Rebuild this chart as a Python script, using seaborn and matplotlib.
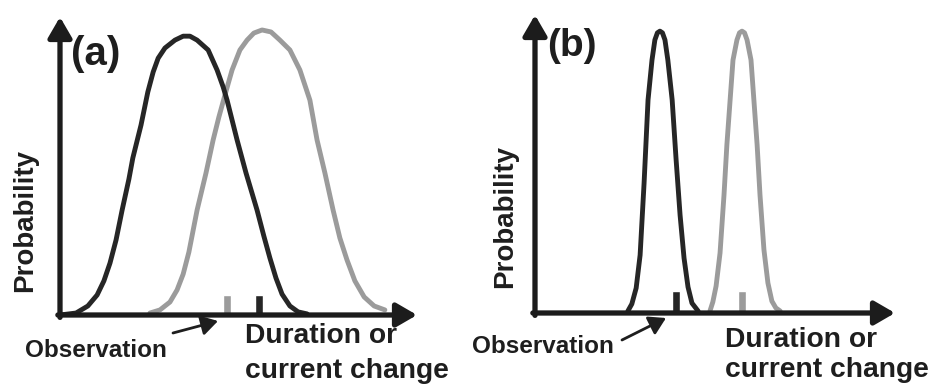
import matplotlib
matplotlib.use("Agg")
import matplotlib.pyplot as plt
import seaborn as sns
import pandas as pd

# ---------------- data ----------------
# panel (a): broad distributions (x: 0-100 along axis, y: 0-100 = peak)
a_dark_x = [0, 4.5, 7.8, 10.4, 12.3, 14.0, 15.7, 17.4, 19.3, 20.4, 22.7, 24.6, 26.1, 27.5, 29.4,
            32.2, 34.5, 36.4, 38.4, 41.5, 44.0, 45.7, 46.8, 49.6, 52.1, 55.2, 57.1, 58.8, 60.5,
            62.2, 64.4, 66.7, 69.2]
a_dark_y = [0, 0.7, 3.2, 7.1, 12.1, 18.4, 26.6, 37.2, 48.2, 55.7, 67.4, 79.1, 86.2, 91.1, 94.7,
            97.5, 98.9, 98.9, 97.5, 94.0, 86.9, 80.9, 76.2, 62.1, 50.4, 37.2, 28.0, 20.2, 13.1,
            7.4, 3.2, 1.1, 0.4]
a_light_x = [25.2, 28.0, 30.8, 32.8, 34.5, 36.1, 38.4, 40.9, 42.9, 44.5, 46.2, 48.2, 50.4, 52.4,
             54.3, 56.6, 59.1, 61.6, 64.4, 67.2, 70.0, 72.0, 74.2, 76.5, 78.4, 80.4, 82.6, 85.2,
             88.0, 91.0]
a_light_y = [0.7, 1.8, 4.6, 8.9, 14.5, 22.3, 37.2, 50.4, 62.1, 70.2, 78.0, 86.9, 94.0, 97.5,
             100.0, 101.1, 100.4, 97.5, 94.0, 86.9, 76.2, 62.1, 50.4, 37.2, 27.3, 19.5, 12.1, 6.4,
             3.2, 1.8]
a_obs_x = [46.8, 55.7]          # light, dark observation marks
a_obs_h = [7.1, 7.1]

# panel (b): narrow distributions
b_dark_x = [25.8, 26.9, 28.1, 29.2, 30.3, 31.4, 32.5, 33.3, 34.0, 34.7, 35.4, 36.1, 36.9, 38.1,
            39.2, 40.3, 41.4, 42.5, 43.6, 45.3]
b_dark_y = [0.7, 3.2, 8.8, 20.5, 45.9, 75.3, 89.4, 96.5, 99.0, 99.6, 99.0, 96.5, 89.4, 75.3,
            54.1, 34.6, 19.4, 9.2, 3.5, 0.7]
b_light_x = [48.6, 49.4, 50.3, 51.4, 52.5, 53.3, 54.2, 55.0, 56.1, 56.8, 57.5, 58.2, 58.9, 60.0,
             60.8, 61.7, 62.5, 63.6, 64.7, 65.8, 66.9, 68.1]
b_light_y = [0.7, 3.9, 9.5, 21.2, 41.7, 59.4, 75.3, 89.4, 96.5, 99.0, 99.6, 99.0, 96.5, 89.4,
             75.3, 59.4, 41.7, 22.3, 10.6, 4.2, 1.8, 0.7]
b_obs_x = [39.2, 57.5]          # dark, light observation marks
b_obs_h = [7.8, 7.8]

panel_labels = ["(a)", "(b)"]
y_label = "Probability"
x_label_lines = ["Duration or", "current change"]
obs_label = "Observation"

# ---------------- style ----------------
sns.set_theme(style="white")
plt.rcParams["font.family"] = ["Liberation Sans", "DejaVu Sans"]
plt.rcParams["font.weight"] = "bold"

DARK = "#262626"
LIGHT = "#9b9b9b"
AXC = "#1c1c1c"
TXT = "#1e1e1e"
W, H = 935, 387

fig = plt.figure(figsize=(W / 100, H / 100), dpi=100)
fig.patch.set_facecolor("white")


def fx(px):
    return px / W


def fy(py):
    return 1 - py / H


def make_panel(left, right, bottom, top, ytip):
    ax = fig.add_axes([fx(left), fy(bottom), fx(right) - fx(left), fy(top) - fy(bottom)])
    ax.set_xlim(0, 100)
    ax.set_ylim(0, ytip)
    for s in ax.spines.values():
        s.set_visible(False)
    ax.set_xticks([])
    ax.set_yticks([])
    ax.patch.set_alpha(0)
    arrow = dict(arrowstyle="-|>,head_length=0.62,head_width=0.36", lw=3.8, color=AXC,
                 mutation_scale=20, shrinkA=0, shrinkB=0)
    ax.annotate("", xy=(1, 0), xytext=(-0.006, 0), xycoords="axes fraction",
                textcoords="axes fraction", arrowprops=arrow, zorder=5)
    ax.annotate("", xy=(0, 1), xytext=(0, -0.008), xycoords="axes fraction",
                textcoords="axes fraction", arrowprops=arrow, zorder=5)
    return ax


def draw_curves(ax, dx, dy, lx, ly, obs_x, obs_h, obs_c):
    df_d = pd.DataFrame({"x": dx, "y": dy})
    df_l = pd.DataFrame({"x": lx, "y": ly})
    sns.lineplot(data=df_l, x="x", y="y", ax=ax, color=LIGHT, linewidth=3.5,
                 estimator=None, sort=False, legend=False)
    sns.lineplot(data=df_d, x="x", y="y", ax=ax, color=DARK, linewidth=3.5,
                 estimator=None, sort=False, legend=False)
    for ln in ax.lines:
        ln.set_clip_on(False)
        ln.set_solid_capstyle("round")
        ln.set_solid_joinstyle("round")
    ax.bar(obs_x, obs_h, width=2.2, color=obs_c, zorder=3, clip_on=False)
    ax.set_xlabel("")
    ax.set_ylabel("")


# panel (a)
ax_a = make_panel(60, 417, 315, 17, 105.7)
draw_curves(ax_a, a_dark_x, a_dark_y, a_light_x, a_light_y, a_obs_x, a_obs_h, [LIGHT, DARK])

# panel (b)
ax_b = make_panel(535, 895, 313, 15, 105.3)
draw_curves(ax_b, b_dark_x, b_dark_y, b_light_x, b_light_y, b_obs_x, b_obs_h, [DARK, LIGHT])

# ---------------- text ----------------
tk = dict(color=TXT, fontweight="bold")
# panel labels
fig.text(fx(71), fy(35), panel_labels[0], fontsize=29, ha="left", va="top", **tk)
fig.text(fx(547), fy(28), panel_labels[1], fontsize=28, ha="left", va="top", **tk)
# y labels
fig.text(fx(25), fy(221), y_label, fontsize=20, rotation=90, ha="center", va="center", **tk)
fig.text(fx(505), fy(216), y_label, fontsize=20, rotation=90, ha="center", va="center", **tk)
# x labels
fig.text(fx(245), fy(343), x_label_lines[0], fontsize=20.3, ha="left", va="baseline", **tk)
fig.text(fx(245), fy(378), x_label_lines[1], fontsize=20.3, ha="left", va="baseline", **tk)
fig.text(fx(725), fy(347), x_label_lines[0], fontsize=20.3, ha="left", va="baseline", **tk)
fig.text(fx(725), fy(377), x_label_lines[1], fontsize=20.3, ha="left", va="baseline", **tk)
# observation labels + arrows
fig.text(fx(25), fy(357), obs_label, fontsize=17.5, ha="left", va="baseline", **tk)
fig.text(fx(472), fy(353), obs_label, fontsize=17.5, ha="left", va="baseline", **tk)
obs_arrow = dict(arrowstyle="-|>,head_length=0.5,head_width=0.3", lw=2.0, color=TXT,
                 mutation_scale=20, shrinkA=0, shrinkB=0)
fig.add_artist(matplotlib.patches.FancyArrowPatch(
    (fx(173), fy(333)), (fx(218), fy(321)), transform=fig.transFigure, **obs_arrow))
fig.add_artist(matplotlib.patches.FancyArrowPatch(
    (fx(622), fy(340)), (fx(666), fy(318)), transform=fig.transFigure, **obs_arrow))

fig.savefig("out.png", dpi=100, facecolor="white")
